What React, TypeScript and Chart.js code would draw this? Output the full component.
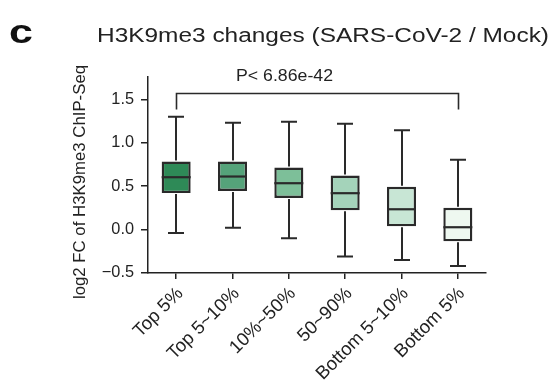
import React, { useEffect, useRef } from "react";
import { Chart, registerables } from "chart.js";

Chart.register(...registerables);

const categories = ["Top 5%", "Top 5~10%", "10%~50%", "50~90%", "Bottom 5~10%", "Bottom 5%"];
const whiskerLow = [-0.04, 0.02, -0.1, -0.31, -0.35, -0.42];
const q1 = [0.42, 0.445, 0.365, 0.222, 0.038, -0.135];
const median = [0.603, 0.611, 0.534, 0.419, 0.234, 0.027];
const q3 = [0.784, 0.784, 0.715, 0.623, 0.492, 0.25];
const whiskerHigh = [1.3, 1.23, 1.242, 1.22, 1.145, 0.804];
const boxColors = ["#2e8a57", "#55a37a", "#7dbf99", "#a4d3ba", "#c8e6d5", "#eef8f0"];
const yTicks = [-0.5, 0, 0.5, 1.0, 1.5];
const yMin = -0.5;
const yMax = 1.757;
const panelLetter = "c";
const titleText = "H3K9me3 changes (SARS-CoV-2 / Mock)";
const yTitle = "log2 FC of H3K9me3 ChIP-Seq";
const pLabel = "P< 6.86e-42";
const bracketY = 1.575;
const bracketLegY = 1.384;
const bracketFrom = 0;
const bracketTo = 5;

const FONT = "'Liberation Sans', Arial, Helvetica, sans-serif";
const INK = "#222222";
const LINE = "#2a2a2a";

function drawFitted(ctx: CanvasRenderingContext2D, text: string, x: number, y: number, font: string, width: number) {
  ctx.save();
  ctx.font = font;
  const w = ctx.measureText(text).width;
  ctx.translate(x, y);
  ctx.scale(width / w, 1);
  ctx.textAlign = "left";
  ctx.textBaseline = "alphabetic";
  ctx.fillText(text, 0, 0);
  ctx.restore();
}

const boxPlugin = {
  id: "boxPlugin",
  afterDatasetsDraw(chart: any) {
    const ctx = chart.ctx as CanvasRenderingContext2D;
    const ys = chart.scales.y;
    const meta = chart.getDatasetMeta(0);
    ctx.save();
    ctx.strokeStyle = LINE;
    ctx.lineCap = "butt";
    meta.data.forEach((bar: any, i: number) => {
      const x = Math.round(bar.x);
      const half = bar.width / 2;
      const capHalf = 8;
      const yHi = ys.getPixelForValue(whiskerHigh[i]);
      const yLo = ys.getPixelForValue(whiskerLow[i]);
      const yQ3 = ys.getPixelForValue(q3[i]);
      const yQ1 = ys.getPixelForValue(q1[i]);
      const yMed = ys.getPixelForValue(median[i]);
      ctx.lineWidth = 2;
      ctx.beginPath();
      ctx.moveTo(x, yQ3 - 1);
      ctx.lineTo(x, yHi);
      ctx.moveTo(x, yQ1 + 1);
      ctx.lineTo(x, yLo);
      ctx.moveTo(x - capHalf, yHi);
      ctx.lineTo(x + capHalf, yHi);
      ctx.moveTo(x - capHalf, yLo);
      ctx.lineTo(x + capHalf, yLo);
      ctx.stroke();
      ctx.lineWidth = 2.2;
      ctx.beginPath();
      ctx.moveTo(bar.x - half, yMed);
      ctx.lineTo(bar.x + half, yMed);
      ctx.stroke();
    });
    ctx.restore();
  },
  afterDraw(chart: any) {
    const ctx = chart.ctx as CanvasRenderingContext2D;
    const xs = chart.scales.x;
    const ys = chart.scales.y;
    ctx.save();
    // panel letter
    ctx.save();
    ctx.fillStyle = "#111";
    ctx.font = `bold 33px ${FONT}`;
    ctx.textAlign = "left";
    ctx.textBaseline = "alphabetic";
    ctx.translate(9, 43);
    ctx.scale(1.3, 1);
    ctx.fillText(panelLetter, 0, 0);
    ctx.restore();
    ctx.fillStyle = INK;
    drawFitted(ctx, titleText, 97, 42, `20px ${FONT}`, 452);
    drawFitted(ctx, pLabel, 236, 81, `17px ${FONT}`, 97);
    const x0 = Math.round(xs.getPixelForValue(bracketFrom)) + 0.5;
    const x1 = Math.round(xs.getPixelForValue(bracketTo)) + 0.5;
    const by = Math.round(ys.getPixelForValue(bracketY)) + 0.5;
    const bl = ys.getPixelForValue(bracketLegY);
    ctx.strokeStyle = LINE;
    ctx.lineWidth = 1.6;
    ctx.beginPath();
    ctx.moveTo(x0, bl);
    ctx.lineTo(x0, by);
    ctx.lineTo(x1, by);
    ctx.lineTo(x1, bl);
    ctx.stroke();
    ctx.save();
    ctx.translate(85, 182);
    ctx.rotate(-Math.PI / 2);
    ctx.font = `16.8px ${FONT}`;
    ctx.textAlign = "center";
    ctx.textBaseline = "alphabetic";
    ctx.fillText(yTitle, 0, 0);
    ctx.restore();
    ctx.restore();
  },
};

export default function App() {
  const ref = useRef<HTMLCanvasElement | null>(null);
  useEffect(() => {
    if (!ref.current) return;
    const chart = new Chart(ref.current, {
      type: "bar",
      data: {
        labels: categories,
        datasets: [
          {
            data: q1.map((v, i) => [v, q3[i]]) as any,
            backgroundColor: boxColors,
            borderColor: LINE,
            borderWidth: 2.4,
            borderSkipped: false,
            barPercentage: 0.515,
            categoryPercentage: 1,
          },
        ],
      },
      options: {
        animation: false,
        responsive: false,
        maintainAspectRatio: false,
        devicePixelRatio: 1,
        layout: { padding: { left: 0, top: 77, right: 65, bottom: 0 } },
        plugins: { legend: { display: false }, tooltip: { enabled: false }, title: { display: false } },
        scales: {
          x: {
            type: "category",
            offset: true,
            grid: { offset: false, drawOnChartArea: false, drawTicks: true, tickLength: 6, color: INK, lineWidth: 1.5 },
            border: { display: true, color: INK, width: 1.5 },
            ticks: { minRotation: 45, maxRotation: 45, padding: 4, labelOffset: 4, color: INK, font: { family: FONT, size: 18.5 } },
            afterFit: (s: any) => {
              s.height = 112;
            },
          },
          y: {
            type: "linear",
            min: yMin,
            max: yMax,
            grid: { drawOnChartArea: false, drawTicks: true, tickLength: 7, color: INK, lineWidth: 1.5 },
            border: { display: true, color: INK, width: 1.5 },
            ticks: {
              padding: 7,
              color: INK,
              font: { family: FONT, size: 16.3 },
              callback: (v: any) => Number(v).toFixed(1).replace("-", "\u2212"),
            },
            afterBuildTicks: (s: any) => {
              s.ticks = yTicks.map((v) => ({ value: v }));
            },
            afterFit: (s: any) => {
              s.width = 148;
            },
          },
        },
      },
      plugins: [boxPlugin],
    });
    return () => chart.destroy();
  }, []);
  return (
    <div style={{ position: "fixed", left: 0, top: 0, width: 551, height: 385, background: "#fff" }}>
      <canvas ref={ref} width={551} height={385} style={{ width: 551, height: 385, display: "block" }} />
    </div>
  );
}
